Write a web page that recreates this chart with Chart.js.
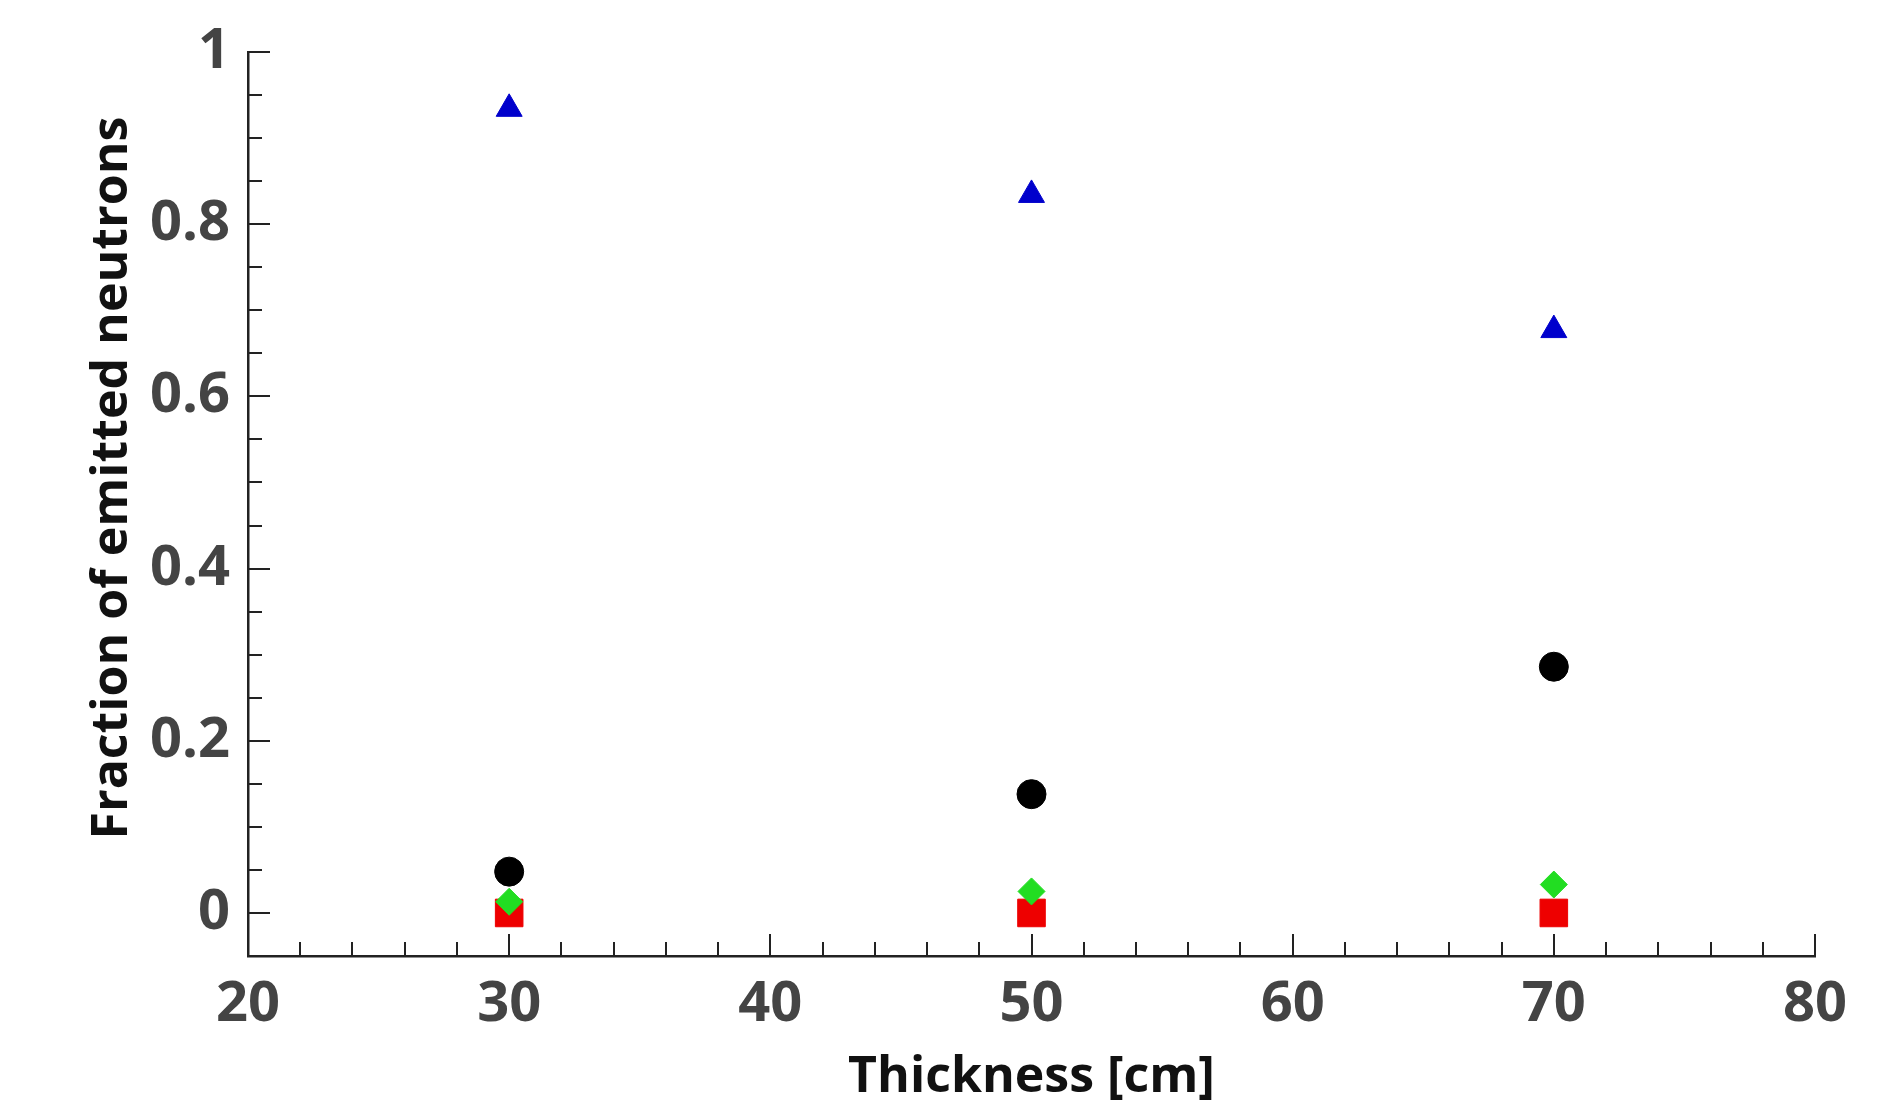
<!DOCTYPE html>
<html>
<head>
<meta charset="utf-8">
<script src="https://cdn.jsdelivr.net/npm/chart.js@4/dist/chart.umd.min.js"></script>
<style>
  html, body { margin: 0; padding: 0; background: #ffffff; }
  #c { display: block; }
</style>
</head>
<body>
<canvas id="c" width="1880" height="1120"></canvas>
<script>
// ---- Data ----
const thickness = [30, 50, 70];
const blueTriangle = [0.934, 0.834, 0.677];
const blackCircle = [0.048, 0.138, 0.286];
const greenDiamond = [0.013, 0.025, 0.033];
const redSquare = [0, 0, 0];

const xTickLabels = [20, 30, 40, 50, 60, 70, 80];
const yTickLabels = [0, 0.2, 0.4, 0.6, 0.8, 1];

const xTitle = 'Thickness [cm]';
const yTitle = 'Fraction of emitted neutrons';

function pts(ys) { return thickness.map((x, i) => ({ x: x, y: ys[i] })); }

const FONT = "'Open Sans', 'DejaVu Sans', sans-serif";

// inward tick marks (major + minor) drawn from the scales' own ticks
const innerTicks = {
  id: 'innerTicks',
  beforeDatasetsDraw(chart) {
    const { ctx, chartArea: a, scales: { x, y } } = chart;
    ctx.save();
    ctx.strokeStyle = '#222';
    ctx.lineWidth = 2;
    ctx.beginPath();
    x.ticks.forEach(t => {
      const px = Math.round(x.getPixelForValue(t.value));
      const major = xTickLabels.some(v => Math.abs(v - t.value) < 1e-6);
      const len = major ? 22 : 14;
      ctx.moveTo(px, a.bottom);
      ctx.lineTo(px, a.bottom - len);
    });
    y.ticks.forEach(t => {
      if (t.value < -1e-6) return;
      const py = Math.round(y.getPixelForValue(t.value));
      const major = yTickLabels.some(v => Math.abs(v - t.value) < 1e-6);
      const len = major ? 22 : 14;
      ctx.moveTo(a.left, py);
      ctx.lineTo(a.left + len, py);
    });
    ctx.stroke();
    ctx.restore();
  }
};

new Chart(document.getElementById('c'), {
  type: 'scatter',
  data: {
    datasets: [
      { label: 'triangle', data: pts(blueTriangle), pointStyle: 'triangle', pointRadius: 15,
        backgroundColor: '#0000cc', borderColor: '#0000cc', borderWidth: 1 },
      { label: 'circle', data: pts(blackCircle), pointStyle: 'circle', pointRadius: 14.5,
        backgroundColor: '#000000', borderColor: '#000000', borderWidth: 1 },
      { label: 'diamond', data: pts(greenDiamond), pointStyle: 'rectRot', pointRadius: 13.5,
        backgroundColor: '#22dd22', borderColor: '#22dd22', borderWidth: 1 },
      { label: 'square', data: pts(redSquare), pointStyle: 'rect', pointRadius: 19.5,
        backgroundColor: '#ee0000', borderColor: '#ee0000', borderWidth: 1 }
    ]
  },
  options: {
    responsive: false,
    devicePixelRatio: 1,
    animation: false,
    events: [],
    layout: { padding: { top: 52, right: 65, bottom: 0, left: 0 } },
    plugins: { legend: { display: false }, tooltip: { enabled: false } },
    scales: {
      x: {
        type: 'linear',
        min: 20, max: 80,
        grid: { display: false, drawTicks: false },
        border: { display: true, color: '#222', width: 2.5 },
        ticks: {
          stepSize: 2, autoSkip: false, maxRotation: 0, minRotation: 0,
          padding: 15, color: '#444',
          font: { family: FONT, size: 56, weight: 'bold' },
          callback: (v) => xTickLabels.find(l => Math.abs(l - v) < 1e-6) !== undefined ? String(v) : ''
        },
        title: {
          display: true, text: xTitle, color: '#111',
          font: { family: FONT, size: 50, weight: 'bold' },
          padding: { top: 0, bottom: 12 }
        },
        afterFit: (s) => { s.height = 164; }
      },
      y: {
        type: 'linear',
        min: -0.05, max: 1,
        grid: { display: false, drawTicks: false },
        border: { display: true, color: '#222', width: 2.5 },
        ticks: {
          stepSize: 0.05, autoSkip: false,
          padding: 18, color: '#444',
          font: { family: FONT, size: 56, weight: 'bold' },
          callback: (v) => {
            const l = yTickLabels.find(t => Math.abs(t - v) < 1e-6);
            return l !== undefined ? String(l) : '';
          }
        },
        title: {
          display: true, text: '    ' + yTitle, color: '#111',
          font: { family: FONT, size: 50, weight: 'bold' },
          padding: { top: 83, bottom: 0 }
        },
        afterFit: (s) => { s.width = 248; }
      }
    }
  },
  plugins: [innerTicks]
});
</script>
</body>
</html>
